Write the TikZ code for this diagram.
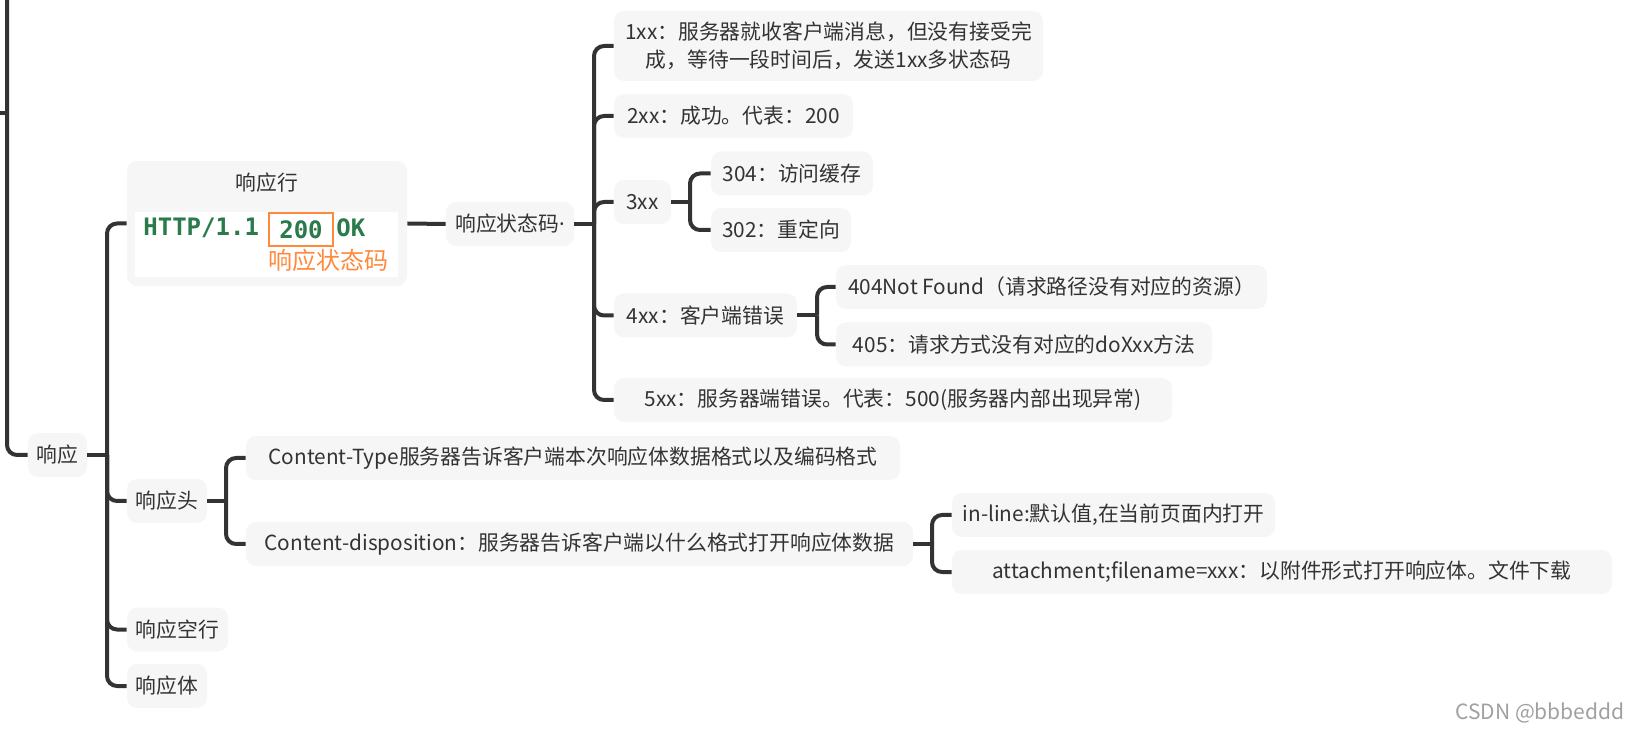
\documentclass[tikz,border=0pt]{standalone}
\usepackage{fontspec}
\setmainfont{Noto Sans CJK SC}
\setmonofont{DejaVu Sans Mono}
\newfontfamily\latinfont{Noto Sans}
\definecolor{boxgray}{HTML}{F6F6F6}
\definecolor{linegray}{HTML}{333333}
\definecolor{txtgray}{HTML}{333333}
\definecolor{httpgreen}{HTML}{2B7A4B}
\definecolor{codeorange}{HTML}{FF8A3D}
\definecolor{markgray}{HTML}{A0A0A0}
\def\px{0.5pt}
\def\xRoot{7}
\def\xResp{107}
\def\xStat{594}
\def\xThree{690}
\def\xFour{817}
\def\xHead{226}
\def\xDisp{932}
\tikzset{
  mmtopic/.style={fill=boxgray, rounded corners=5pt, inner sep=0pt, align=center,
    text=txtgray, font=\fontsize{10.4pt}{14pt}\selectfont},
  mmlink/.style={draw=linegray, line width=2pt},
  mmbranch/.style={mmlink, rounded corners=5pt},
  httptext/.style={inner sep=0pt, text=httpgreen, font=\ttfamily\bfseries\fontsize{12pt}{12pt}\selectfont},
}
\newcommand{\mmtopic}[6]{%
  \node[mmtopic, minimum width=#4*\px, minimum height=#5*\px] (#1) at (#2,#3) {#6};}
\newcommand{\mmfork}[3]{%
  \coordinate (#1bar) at (#2,0);
  \draw[mmlink] (#1.east) -- (#1.east -| #1bar);
  \foreach \c in {#3}
    \draw[mmbranch] (#1.east -| #1bar) |- (\c.west);}

\begin{document}
\begin{tikzpicture}[x=\px, y=-\px]
  \useasboundingbox (0,0) rectangle (1639,732);

  % first level
  \mmtopic{resp}{57.5}{455}{59}{44}{响应}
  \node[mmtopic, minimum width=280*\px, minimum height=125*\px] (respLine) at (267,223.5) {};
  \node[text=txtgray, font=\fontsize{10.4pt}{14pt}\selectfont] (respLineTitle) at (267,183) {响应行};
  \node[fill=white, inner sep=0pt, minimum width=263*\px, minimum height=65*\px] (respShot) at (266.5,244.5) {};
  \node[httptext, anchor=west] (httpVer) at (143,228) {HTTP/1.1};
  \node[httptext, draw=codeorange, line width=0.6pt, minimum width=64*\px, minimum height=33*\px] (httpCode) at (301,229.5) {200};
  \node[httptext, anchor=west] (httpOk) at (336,228) {OK};
  \node[inner sep=0pt, text=codeorange, font=\fontsize{12pt}{12pt}\selectfont] (httpNote) at (328,260) {响应状态码};
  \mmtopic{respHead}{167}{501}{80}{44}{响应头}
  \mmtopic{respBlank}{177.5}{629.5}{101}{44}{响应空行}
  \mmtopic{respBody}{167}{686}{80}{44}{响应体}

  % status codes
  \mmtopic{status}{510}{224}{128}{44}{响应状态码{\latinfont ·}}
  \mmtopic{s1}{828.5}{46}{429}{70}{1xx：服务器就收客户端消息，但没有接受完\\成，等待一段时间后，发送1xx多状态码}
  \mmtopic{s2}{733.5}{116}{239}{44}{2xx：成功。代表：200}
  \mmtopic{s3}{642.5}{202}{57}{44}{3xx}
  \mmtopic{s4}{705.5}{315.5}{183}{44}{4xx：客户端错误}
  \mmtopic{s5}{893}{400}{558}{44}{5xx：服务器端错误。代表：500(服务器内部出现异常)}
  \mmtopic{s31}{792}{173.5}{162}{44}{304：访问缓存}
  \mmtopic{s32}{781}{230}{140}{44}{302：重定向}
  \mmtopic{s41}{1051.5}{287}{431}{44}{404Not Found（请求路径没有对应的资源）}
  \mmtopic{s42}{1024}{344.5}{376}{44}{405：请求方式没有对应的doXxx方法}

  % headers
  \mmtopic{h1}{573}{458}{654}{44}{Content-Type服务器告诉客户端本次响应体数据格式以及编码格式}
  \mmtopic{h2}{579.5}{544}{667}{44}{Content-disposition：服务器告诉客户端以什么格式打开响应体数据}
  \mmtopic{d1}{1113.5}{515}{323}{44}{in-line:默认值,在当前页面内打开}
  \mmtopic{d2}{1282}{572}{660}{44}{attachment;filename=xxx：以附件形式打开响应体。文件下载}

  % connectors
  \coordinate (rootTop) at (\xRoot,0);
  \coordinate (rootIn) at (0,113);
  \coordinate (rootBar) at (\xRoot,113);
  \draw[mmlink] (rootIn) -- (rootBar);
  \draw[mmbranch] (rootTop) |- (resp.west);
  \mmfork{resp}{\xResp}{respLine,respHead,respBlank,respBody}
  \draw[mmlink] (respLine.east) -- (status.west);
  \mmfork{status}{\xStat}{s1,s2,s3,s4,s5}
  \mmfork{s3}{\xThree}{s31,s32}
  \mmfork{s4}{\xFour}{s41,s42}
  \mmfork{respHead}{\xHead}{h1,h2}
  \mmfork{h2}{\xDisp}{d1,d2}

  \node[anchor=east, inner sep=0pt, text=markgray, font=\fontsize{10.5pt}{10.5pt}\selectfont] (mark) at (1625,713) {CSDN @bbbeddd};
\end{tikzpicture}
\end{document}
